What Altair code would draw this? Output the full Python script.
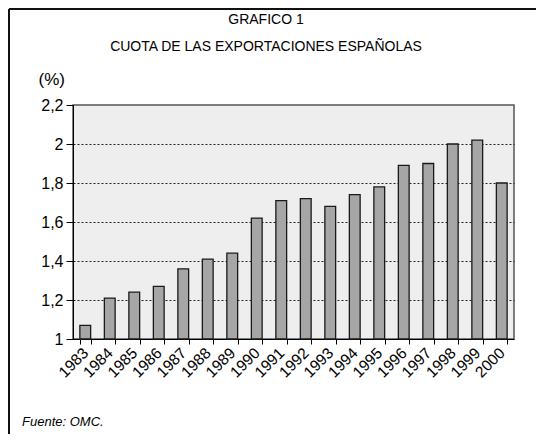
import altair as alt
import pandas as pd

years = ["1983", "1984", "1985", "1986", "1987", "1988", "1989", "1990", "1991",
         "1992", "1993", "1994", "1995", "1996", "1997", "1998", "1999", "2000"]
cuota = [1.07, 1.21, 1.24, 1.27, 1.36, 1.41, 1.44, 1.62, 1.71,
         1.72, 1.68, 1.74, 1.78, 1.89, 1.90, 2.00, 2.02, 1.80]
y_ticks = [1, 1.2, 1.4, 1.6, 1.8, 2, 2.2]
title_lines = "GRAFICO 1\nCUOTA DE LAS EXPORTACIONES ESPAÑOLAS"
y_unit = "(%)"
footer = "Fuente: OMC."

FONT = "Liberation Sans"

df = pd.DataFrame({"year": years, "cuota": cuota})

bars = alt.Chart(df).mark_bar(
    fill="#a6a6a6", stroke="#1a1a1a", strokeWidth=1.3
).encode(
    x=alt.X("year:N", sort=years,
            scale=alt.Scale(paddingInner=0.56, paddingOuter=0.28),
            axis=alt.Axis(title=None, labelAngle=-45, labelAlign="right",
                          labelBaseline="middle", labelFontSize=15.5, labelFont=FONT,
                          labelColor="#000", tickBand="extent", tickSize=5,
                          tickColor="#000", domainColor="#000", labelPadding=6,
                          grid=False)),
    y=alt.Y("cuota:Q",
            scale=alt.Scale(domain=[1, 2.2], zero=False, nice=False),
            axis=alt.Axis(values=y_ticks, format="~g",
                          labelExpr="replace(datum.label, '.', ',')",
                          title=y_unit, titleAngle=0, titleAlign="left",
                          titleBaseline="alphabetic", titleX=-35, titleY=-21,
                          titleFont=FONT, titleFontSize=17, titleFontWeight="normal",
                          titleColor="#000",
                          labelFont=FONT, labelFontSize=16, labelColor="#000",
                          labelPadding=3, tickSize=7, tickColor="#000",
                          domainColor="#000",
                          grid=True, gridColor="#222", gridDash=[2, 2],
                          gridOpacity={"condition": {"test": "datum.value < 1.05 || datum.value > 2.15", "value": 0}, "value": 1})),
    y2=alt.datum(1),
)

title = alt.Chart(pd.DataFrame({"t": [title_lines]})).mark_text(
    align="center", baseline="alphabetic", font=FONT, fontSize=14,
    color="#000", lineBreak="\n", lineHeight=27
).encode(x=alt.value(193), y=alt.value(-81), text="t:N")

foot = alt.Chart(pd.DataFrame({"t": [footer]})).mark_text(
    align="left", baseline="alphabetic", font=FONT, fontSize=13, fontStyle="italic",
    color="#000"
).encode(x=alt.value(-51), y=alt.value(321), text="t:N")

frame_left = alt.Chart(pd.DataFrame({"a": [0]})).mark_rule(
    color="#111", strokeWidth=2
).encode(x=alt.value(-64), y=alt.value(-96), y2=alt.value(337))
frame_top = alt.Chart(pd.DataFrame({"a": [0]})).mark_rule(
    color="#111", strokeWidth=2
).encode(x=alt.value(-64), x2=alt.value(463), y=alt.value(-96))
frame_bottom = alt.Chart(pd.DataFrame({"a": [0]})).mark_rule(
    color="#dddddd", strokeWidth=1
).encode(x=alt.value(-64), x2=alt.value(463), y=alt.value(336))

chart = alt.layer(bars, title, foot, frame_left, frame_top, frame_bottom).properties(
    width=441, height=234,
    autosize=alt.AutoSizeParams(type="none"),
    padding={"left": 65, "top": 97, "right": 22, "bottom": 95},
).configure(
    background="#ffffff"
).configure_view(
    fill="#eeeeee", stroke="#555555", strokeWidth=1.5
)

chart.save("out.html", embed_options={"renderer": "svg", "actions": False})
